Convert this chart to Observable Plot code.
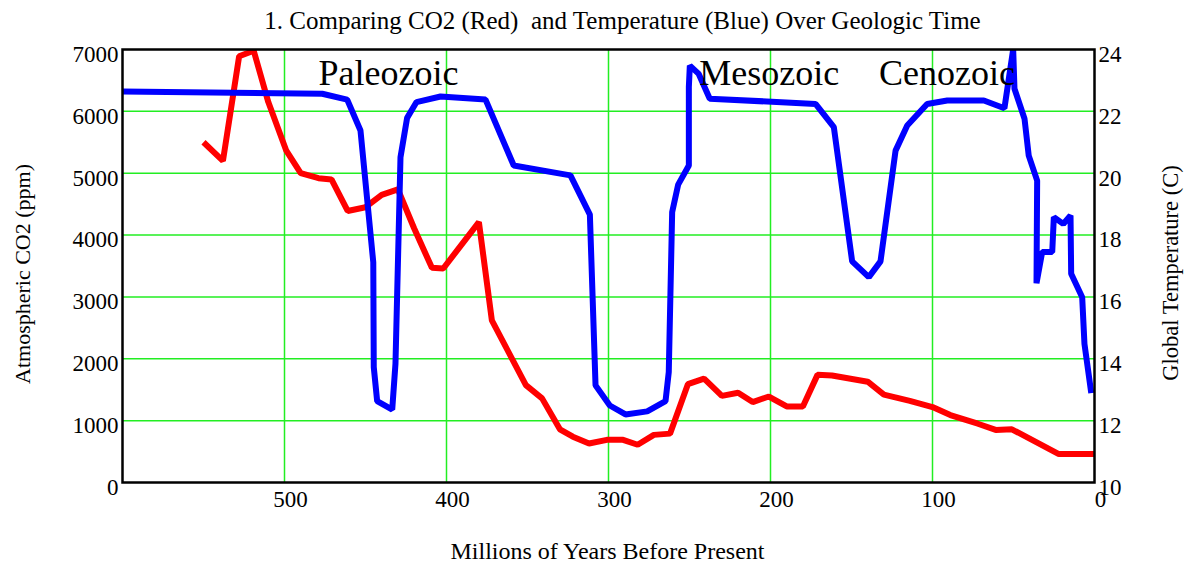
<!DOCTYPE html>
<html>
<head>
<meta charset="utf-8">
<script src="https://cdn.jsdelivr.net/npm/d3@7"></script>
<script src="https://cdn.jsdelivr.net/npm/@observablehq/plot@0.6"></script>
<style>
  html, body { margin: 0; padding: 0; background: #fff; }
  #chart svg { display: block; }
</style>
</head>
<body>
<div id="chart"></div>
<script>
// CO2 (ppm) vs age (Myr before present)
const co2Ages = [550, 538, 528, 519, 510, 499, 490, 479, 471, 461, 450, 440, 430, 420, 409, 402, 380, 372, 351, 341, 330, 322, 312, 301, 291, 282, 272, 262, 251, 241, 230, 220, 211, 201, 190, 180, 171, 162, 140, 130, 114, 100, 89, 72, 61, 51, 22, 12, 0];
const co2Ppm  = [5500, 5200, 6890, 6980, 6150, 5370, 5000, 4920, 4900, 4390, 4450, 4650, 4740, 4110, 3470, 3460, 4210, 2620, 1575, 1360, 860, 740, 630, 690, 690, 610, 770, 790, 1590, 1680, 1400, 1450, 1300, 1390, 1230, 1230, 1740, 1730, 1630, 1420, 1320, 1220, 1090, 950, 850, 860, 460, 460, 460];

// Global temperature (C) vs age
const tempAges = [600, 476.7, 461.3, 453.1, 445.2, 444.9, 442.8, 433.5, 431.5, 428.4, 424.3, 418.5, 403.7, 375.9, 358.5, 323.5, 311.5, 308, 299.2, 289.5, 276.1, 264.8, 262.8, 260.7, 257, 250.4, 250.4, 249.8, 244.3, 237.5, 172.2, 160.9, 149.6, 139.3, 132.1, 122.8, 115.6, 103.3, 90.9, 68.3, 55.6, 50.2, 49.4, 43.2, 40.6, 35.4, 35.8, 32.3, 26.1, 25.1, 19.3, 14.8, 14.4, 7.6, 6.2, 2.0];
const tempC    = [22.64, 22.57, 22.38, 21.38, 17.12, 13.73, 12.63, 12.36, 13.84, 20.52, 21.79, 22.3, 22.48, 22.38, 20.25, 19.93, 18.66, 13.14, 12.49, 12.2, 12.3, 12.63, 13.57, 18.74, 19.63, 20.25, 22.78, 23.48, 23.21, 22.41, 22.24, 21.49, 17.15, 16.64, 17.15, 20.73, 21.54, 22.24, 22.35, 22.35, 22.1, 24.0, 22.73, 21.76, 20.57, 19.76, 16.44, 17.45, 17.45, 18.58, 18.36, 18.63, 16.75, 15.99, 14.48, 12.89];

// Axis ticks
const xTicks = [500, 400, 300, 200, 100, 0];
const xGrid = [500, 400, 300, 200, 100];
const co2Ticks = [0, 1000, 2000, 3000, 4000, 5000, 6000, 7000];
const co2Grid = [1000, 2000, 3000, 4000, 5000, 6000];
const tempTicks = [10, 12, 14, 16, 18, 20, 22, 24];

// Era labels
const eraNames = ["Paleozoic", "Mesozoic", "Cenozoic"];
const eraAges = [479, 244, 133];
const eraLevel = 6612;

const titleText = "1. Comparing CO2 (Red)  and Temperature (Blue) Over Geologic Time";

// temperature mapped onto the CO2 axis (10 C -> 0 ppm, 24 C -> 7000 ppm)
const tToY = t => (t - 10) * 500;
const yToT = y => String(Math.round(y / 500 + 10));

const co2Data = co2Ages.map((a, i) => ({age: a, v: co2Ppm[i]}));
const tempData = tempAges.map((a, i) => ({age: a, t: tempC[i]}));
const eraData = eraNames.map((n, i) => ({name: n, age: eraAges[i], y: eraLevel}));

const font = "'Liberation Serif', 'Times New Roman', Times, serif";

const chart = Plot.plot({
  width: 1186,
  height: 564,
  marginLeft: 122,
  marginRight: 92,
  marginTop: 49,
  marginBottom: 82,
  style: {fontFamily: font, fontSize: "23px", color: "#000", background: "#fff"},
  x: {domain: [600, 0]},
  y: {domain: [0, 7000]},
  marks: [
    Plot.gridX(xGrid, {stroke: "#22ee22", strokeOpacity: 1, strokeWidth: 1.5}),
    Plot.gridY(co2Grid, {stroke: "#22ee22", strokeOpacity: 1, strokeWidth: 1.5}),
    Plot.line(co2Data, {x: "age", y: "v", stroke: "#ff0000", strokeWidth: 6, strokeLinejoin: "miter", strokeLinecap: "butt", clip: true}),
    Plot.line(tempData, {x: "age", y: d => tToY(d.t), stroke: "#0000ff", strokeWidth: 6, strokeLinejoin: "miter", strokeLinecap: "butt", clip: true}),
    Plot.frame({stroke: "#000", strokeWidth: 2.5}),
    Plot.axisY(co2Ticks, {anchor: "left", tickSize: 0, tickPadding: 4, dy: 5, fontSize: 23, tickFormat: d => String(d), label: null}),
    Plot.axisY(tempTicks.map(tToY), {anchor: "right", tickSize: 0, tickPadding: 4, dy: 5, fontSize: 23, tickFormat: yToT, label: null}),
    Plot.axisX(xTicks, {anchor: "bottom", tickSize: 0, tickPadding: 8, dx: 6, fontSize: 23, tickFormat: d => String(d), label: null}),
    Plot.text(eraData, {x: "age", y: "y", text: "name", textAnchor: "start", fontSize: 36, fill: "#000"}),
    Plot.text([titleText], {frameAnchor: "top", textAnchor: "middle", dx: 14, dy: -38, fontSize: 25, fill: "#000"}),
    Plot.text(["Millions of Years Before Present"], {frameAnchor: "bottom", textAnchor: "middle", dx: -1, dy: 76, fontSize: 24, fill: "#000"}),
    Plot.text(["Atmospheric CO2 (ppm)"], {frameAnchor: "left", textAnchor: "middle", dx: -100, dy: 8, rotate: -90, fontSize: 22, fill: "#000"}),
    Plot.text(["Global Temperature (C)"], {frameAnchor: "right", textAnchor: "middle", dx: 76, dy: 7, rotate: -90, fontSize: 22.5, fill: "#000"})
  ]
});
document.getElementById("chart").appendChild(chart);
</script>
</body>
</html>
